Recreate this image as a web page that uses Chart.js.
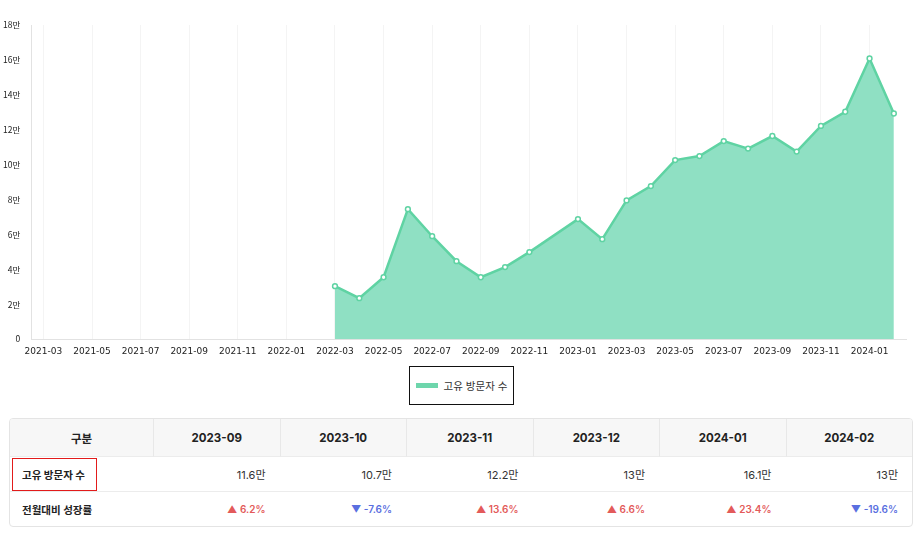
<!DOCTYPE html>
<html lang="ko">
<head>
<meta charset="utf-8">
<script src="https://cdn.jsdelivr.net/npm/chart.js@4.4.1/dist/chart.umd.min.js"></script>
<style>
    html, body { margin: 0; padding: 0; background: #fff; }
    body { width: 923px; height: 534px; overflow: hidden; position: relative; font-family: Inter, "Noto Sans CJK KR", sans-serif; }
    .chart-wrap { position: absolute; left: 0; top: 0; width: 923px; height: 364px; }
    .legend-box { position: absolute; left: 409px; top: 366px; width: 103px; height: 37px; border: 1px solid #111; box-sizing: content-box; display: flex; align-items: center; justify-content: center; font-size: 10.5px; color: #333; font-family: "Noto Sans CJK KR", sans-serif; }
    .legend-box i { display: inline-block; width: 22px; height: 5px; background: #6ed6ac; margin-right: 6px; }
    .stat-table { position: absolute; left: 9px; top: 418px; width: 904px; border: 1px solid #e4e4e4; border-radius: 4px; border-collapse: separate; border-spacing: 0; overflow: hidden; font-size: 11px; color: #222; table-layout: fixed; }
    .stat-table th, .stat-table td { height: 34px; padding: 0 14px; border-bottom: 1px solid #ececec; }
    .stat-table th { background: #f7f7f7; font-weight: 700; font-size: 11.5px; height: 37px; border-left: 1px solid #e8e8e8; text-align: center; }
    .stat-table th:first-child { border-left: none; font-weight: 600; }
    .stat-table tr:last-child td { border-bottom: none; }
    .stat-table td { text-align: right; font-size: 11px; color: #333; }
    .stat-table td.row-head { text-align: left; font-weight: 700; font-size: 10.5px; padding-left: 12px; color: #222; }
    .stat-table td.up { color: #e35a5a; font-size: 10px; font-weight: 600; }
    .stat-table td.down { color: #5a6fe0; font-size: 10px; font-weight: 600; }
    .mark { display: inline-block; border: 1px solid #e21b1b; padding: 8px 11px 8px 9px; margin-left: -10px; }
</style>
</head>
<body>
<div class="chart-wrap"><canvas id="visitorChart"></canvas></div>
<div class="legend-box" id="legendBox"></div>
<table class="stat-table" id="statTable"></table>

<script>
const months = [
    '2021-03', '2021-04', '2021-05', '2021-06', '2021-07', '2021-08', '2021-09', '2021-10', '2021-11', '2021-12',
    '2022-01', '2022-02', '2022-03', '2022-04', '2022-05', '2022-06', '2022-07', '2022-08', '2022-09', '2022-10',
    '2022-11', '2022-12', '2023-01', '2023-02', '2023-03', '2023-04', '2023-05', '2023-06', '2023-07', '2023-08',
    '2023-09', '2023-10', '2023-11', '2023-12', '2024-01', '2024-02',
];
const visitors = [
    null, null, null, null, null, null, null, null, null, null,
    null, null, 30400, 23500, 35500, 74500, 59000, 44700, 35500, 41300,
    49900, null, 68800, 57300, 79500, 87700, 102600, 104900, 113500, 109200,
    116400, 107500, 122200, 130300, 160800, 129300,
];
const yTicks = [0, 20000, 40000, 60000, 80000, 100000, 120000, 140000, 160000, 180000];
const seriesName = '고유 방문자 수';

const tableMonths = ['2023-09', '2023-10', '2023-11', '2023-12', '2024-01', '2024-02'];
const tableValues = ['11.6만', '10.7만', '12.2만', '13만', '16.1만', '13만'];
const growthRates = [6.2, -7.6, 13.6, 6.6, 23.4, -19.6];

const lineColor = '#5fd3a3';
const fillColor = 'rgba(143, 224, 195, 1)';

new Chart(document.getElementById('visitorChart'), {
    type: 'line',
    data: {
        labels: months,
        datasets: [{
            label: seriesName,
            data: visitors,
            borderColor: lineColor,
            backgroundColor: fillColor,
            fill: 'origin',
            borderWidth: 2.5,
            tension: 0,
            spanGaps: true,
            pointRadius: 2.4,
            pointBorderWidth: 1.5,
            pointBackgroundColor: '#fff',
            pointBorderColor: lineColor,
        }],
    },
    options: {
        responsive: true,
        maintainAspectRatio: false,
        animation: false,
        layout: { padding: { top: 25, left: 0, right: 17, bottom: 0 } },
        plugins: { legend: { display: false }, tooltip: { enabled: false } },
        scales: {
            x: {
                offset: true,
                grid: { color: 'rgba(0,0,0,0.045)', drawTicks: false },
                border: { color: '#e2e2e2' },
                ticks: {
                    autoSkip: true,
                    maxTicksLimit: 18,
                    maxRotation: 0,
                    padding: 7,
                    color: '#222',
                    font: { family: 'DejaVu Sans', size: 9 },
                },
            },
            y: {
                min: 0,
                max: 180000,
                afterBuildTicks: (axis) => { axis.ticks = yTicks.map((v) => ({ value: v })); },
                grid: { display: false },
                border: { color: '#e2e2e2' },
                ticks: {
                    padding: 3,
                    color: '#222',
                    font: { family: '"Noto Sans CJK KR"', size: 8.5 },
                    callback: (v) => (v === 0 ? '0' : v / 10000 + '만'),
                },
            },
        },
    },
});

document.getElementById('legendBox').innerHTML = `<i></i>${seriesName}`;

const table = document.getElementById('statTable');
let html = '<colgroup><col style="width:143px">' + tableMonths.map(() => '<col>').join('') + '</colgroup>';
html += '<tr><th>구분</th>' + tableMonths.map((m) => `<th>${m}</th>`).join('') + '</tr>';
html += `<tr><td class="row-head"><span class="mark">${seriesName}</span></td>` + tableValues.map((v) => `<td>${v}</td>`).join('') + '</tr>';
html += '<tr><td class="row-head">전월대비 성장률</td>' + growthRates.map((g) => {
    const up = g >= 0;
    return `<td class="${up ? 'up' : 'down'}">${up ? '▲' : '▼'} ${g.toFixed(1)}%</td>`;
}).join('') + '</tr>';
table.innerHTML = html;
</script>
</body>
</html>
